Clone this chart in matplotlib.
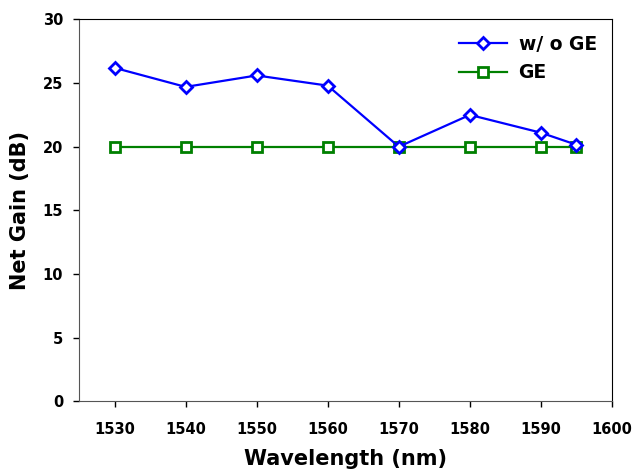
import matplotlib
matplotlib.use("Agg")
import matplotlib.pyplot as plt

plt.rcParams['font.family'] = ['DejaVu Sans']
plt.rcParams['font.weight'] = 'bold'

wavelength = [1530, 1540, 1550, 1560, 1570, 1580, 1590, 1595]
gain_wo_ge = [26.2, 24.7, 25.6, 24.8, 20.0, 22.5, 21.1, 20.15]
gain_ge = [20.0, 20.0, 20.0, 20.0, 20.0, 20.0, 20.0, 20.0]
xticks = [1530, 1540, 1550, 1560, 1570, 1580, 1590, 1600]
yticks = [0, 5, 10, 15, 20, 25, 30]

fig = plt.figure(figsize=(6.34, 4.73), dpi=100)
ax = fig.add_axes([0.1246, 0.152, 0.8407, 0.8068])

ax.plot(wavelength, gain_wo_ge, color='#0000ff', lw=1.6, marker='D', ms=6.5,
        mfc='white', mec='#0000ff', mew=2, label='w/ o GE', zorder=3)
ax.plot(wavelength, gain_ge, color='#008000', lw=1.6, marker='s', ms=6.5,
        mfc='white', mec='#008000', mew=2, label='GE', zorder=2)

ax.set_xlim(1525, 1600)
ax.set_ylim(0, 30)
ax.set_xticks(xticks)
ax.set_yticks(yticks)
ax.tick_params(direction='out', length=4.5, width=1, labelsize=10.5)
ax.tick_params(axis='x', pad=10.5)
ax.tick_params(axis='y', pad=7)
for lab in ax.get_xticklabels() + ax.get_yticklabels():
    lab.set_fontweight('bold')
for s in ['left', 'bottom']:
    ax.spines[s].set_color('#555555')
for s in ['top', 'right']:
    ax.spines[s].set_color('black')

ax.set_xlabel('Wavelength (nm)', fontsize=15, fontweight='bold', labelpad=9)
ax.set_ylabel('Net Gain (dB)', fontsize=15, fontweight='bold', labelpad=9)

leg = ax.legend(loc='upper right', frameon=False, fontsize=13.5,
                bbox_to_anchor=(1.003, 1.004), handlelength=2.6, handletextpad=0.6,
                labelspacing=0.5)
for t in leg.get_texts():
    t.set_fontweight('bold')

fig.savefig('out.png', dpi=100)
